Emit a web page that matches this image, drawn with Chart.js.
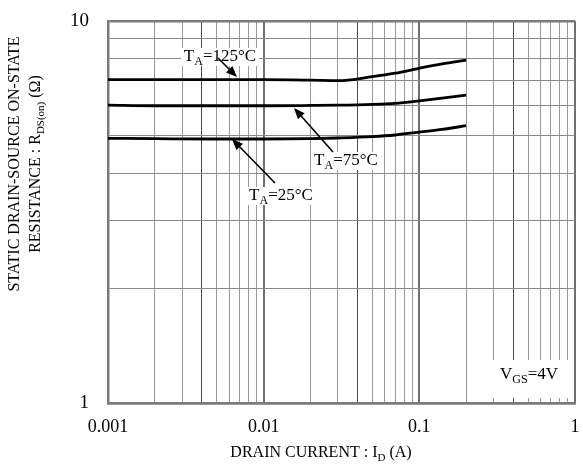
<!DOCTYPE html>
<html>
<head>
<meta charset="utf-8">
<script src="https://cdn.jsdelivr.net/npm/chart.js@4/dist/chart.umd.min.js"></script>
<style>
  html, body { margin: 0; padding: 0; background: #fff; }
  #wrap { width: 583px; height: 468px; position: relative; }
</style>
</head>
<body>
<div id="wrap"><canvas id="rds"></canvas></div>
<script>
// drain current (A) and on-resistance (ohm)
var current = [0.001, 0.002, 0.005, 0.01, 0.02, 0.03, 0.05, 0.07, 0.1, 0.14, 0.2];
var rds125 = [7.02, 7.02, 7.02, 7.02, 7.0, 6.98, 7.15, 7.3, 7.52, 7.72, 7.9];
var rds75 = [6.02, 6.0, 6.0, 6.0, 6.01, 6.02, 6.05, 6.09, 6.18, 6.28, 6.4];
var rds25 = [4.93, 4.92, 4.91, 4.91, 4.92, 4.94, 4.98, 5.03, 5.12, 5.2, 5.32];

// grid / tick positions
var xGrid = [0.001, 0.002, 0.003, 0.004, 0.005, 0.006, 0.007, 0.008, 0.009,
             0.01, 0.02, 0.03, 0.04, 0.05, 0.06, 0.07, 0.08, 0.09,
             0.1, 0.2, 0.3, 0.4, 0.5, 0.6, 0.7, 0.8, 0.9, 1];
var yGrid = [1, 2, 3, 4, 5, 6, 7, 8, 9, 10];
var xLabels = ['0.001', '0.01', '0.1', '1'];
var yLabels = ['1', '10'];

var serif = '"Liberation Serif", "Times New Roman", serif';

function isDecade(v) {
    var l = Math.log10(v);
    return Math.abs(l - Math.round(l)) < 1e-6;
}
function isFour(v) {
    var l = Math.log10(v);
    return Math.abs((l - Math.floor(l + 1e-9)) - Math.log10(4)) < 1e-6;
}

function pts(ys) {
    return current.map(function (x, i) { return { x: x, y: ys[i] }; });
}

function lineSet(label, ys) {
    return {
        label: label,
        data: pts(ys),
        showLine: true,
        borderColor: '#000',
        borderWidth: 2.8,
        pointRadius: 0,
        cubicInterpolationMode: 'monotone',
        fill: false
    };
}

// draw text with subscripts: parts = [[text, isSub], ...]
function richText(ctx, parts, x, y, size) {
    var subSize = Math.round(size * 0.68);
    var w = 0;
    parts.forEach(function (p) {
        ctx.font = (p[1] ? subSize : size) + 'px ' + serif;
        w += ctx.measureText(p[0]).width;
    });
    var cx = x - w / 2;
    ctx.textAlign = 'left';
    ctx.textBaseline = 'middle';
    parts.forEach(function (p) {
        ctx.font = (p[1] ? subSize : size) + 'px ' + serif;
        ctx.fillText(p[0], cx, p[1] ? y + size * 0.3 : y);
        cx += ctx.measureText(p[0]).width;
    });
    return w;
}

function arrow(ctx, x1, y1, x2, y2) {
    var a = Math.atan2(y2 - y1, x2 - x1);
    var len = 11, half = 4.5;
    ctx.strokeStyle = '#000';
    ctx.lineWidth = 1.6;
    ctx.beginPath();
    ctx.moveTo(x1, y1);
    ctx.lineTo(x2 - Math.cos(a) * len * 0.8, y2 - Math.sin(a) * len * 0.8);
    ctx.stroke();
    ctx.fillStyle = '#000';
    ctx.beginPath();
    ctx.moveTo(x2, y2);
    ctx.lineTo(x2 - Math.cos(a) * len - Math.sin(a) * half, y2 - Math.sin(a) * len + Math.cos(a) * half);
    ctx.lineTo(x2 - Math.cos(a) * len + Math.sin(a) * half, y2 - Math.sin(a) * len - Math.cos(a) * half);
    ctx.closePath();
    ctx.fill();
}

function tempLabel(ctx, text, x, y, boxW) {
    ctx.fillStyle = '#fff';
    ctx.fillRect(x - boxW / 2, y - 9, boxW, 18);
    ctx.fillStyle = '#000';
    richText(ctx, [['T', false], ['A', true], ['=' + text, false]], x, y, 17);
}

var annotations = {
    id: 'annotations',
    afterDatasetsDraw: function (chart) {
        var ctx = chart.ctx;
        ctx.save();

        // curve labels and arrows
        tempLabel(ctx, '125°C', 220, 57, 78);
        arrow(ctx, 218, 58, 237, 77);

        tempLabel(ctx, '75°C', 346, 161, 68);
        arrow(ctx, 333, 152, 294, 108);

        tempLabel(ctx, '25°C', 281, 196, 66);
        arrow(ctx, 275, 183, 232, 139);

        // VGS note
        ctx.fillStyle = '#fff';
        ctx.fillRect(492, 360, 82, 38);
        ctx.fillStyle = '#000';
        richText(ctx, [['V', false], ['GS', true], ['=4V', false]], 529, 375, 17);

        // x axis title
        richText(ctx, [['DRAIN CURRENT : I', false], ['D', true], [' (A)', false]], 321, 453, 16);

        // y axis title (two rotated lines)
        ctx.save();
        ctx.translate(15, 164);
        ctx.rotate(-Math.PI / 2);
        richText(ctx, [['STATIC DRAIN-SOURCE ON-STATE', false]], 0, 0, 16);
        ctx.restore();
        ctx.save();
        ctx.translate(36, 164);
        ctx.rotate(-Math.PI / 2);
        richText(ctx, [['RESISTANCE : R', false], ['DS(on)', true], [' (Ω)', false]], 0, 0, 16);
        ctx.restore();

        ctx.restore();
    }
};

new Chart(document.getElementById('rds'), {
    type: 'scatter',
    data: {
        datasets: [
            lineSet('TA=125°C', rds125),
            lineSet('TA=75°C', rds75),
            lineSet('TA=25°C', rds25)
        ]
    },
    options: {
        responsive: true,
        maintainAspectRatio: false,
        animation: false,
        layout: { padding: { top: 21, right: 8, left: 0, bottom: 0 } },
        plugins: {
            legend: { display: false },
            tooltip: { enabled: false }
        },
        scales: {
            x: {
                type: 'logarithmic',
                min: 0.001,
                max: 1,
                afterBuildTicks: function (scale) {
                    scale.ticks = xGrid.map(function (v) { return { value: v }; });
                },
                afterFit: function (scale) {
                    scale.height = 65;
                    scale.paddingLeft = 0;
                    scale.paddingRight = 0;
                },
                ticks: {
                    autoSkip: false,
                    maxRotation: 0,
                    padding: 13,
                    color: '#000',
                    font: { family: serif, size: 18 },
                    callback: function (v) {
                        return isDecade(v) ? xLabels[Math.round(Math.log10(v)) + 3] : '';
                    }
                },
                grid: {
                    drawTicks: false,
                    color: function (c) {
                        if (!c.tick) return '#999';
                        if (isDecade(c.tick.value)) return '#6f6f6f';
                        return isFour(c.tick.value) ? '#4a4a4a' : '#9a9a9a';
                    },
                    lineWidth: function (c) {
                        return c.tick && isDecade(c.tick.value) ? 2 : 1;
                    }
                },
                border: { display: true, color: '#7a7a7a', width: 2.5 }
            },
            y: {
                type: 'logarithmic',
                min: 1,
                max: 10,
                afterBuildTicks: function (scale) {
                    scale.ticks = yGrid.map(function (v) { return { value: v }; });
                },
                afterFit: function (scale) {
                    scale.width = 108;
                    scale.paddingTop = 0;
                    scale.paddingBottom = 0;
                },
                ticks: {
                    autoSkip: false,
                    padding: 19,
                    color: '#000',
                    font: { family: serif, size: 19 },
                    callback: function (v) {
                        return isDecade(v) ? yLabels[Math.round(Math.log10(v))] : '';
                    }
                },
                grid: {
                    drawTicks: false,
                    color: function (c) {
                        return c.tick && isDecade(c.tick.value) ? '#7a7a7a' : '#8a8a8a';
                    },
                    lineWidth: function (c) {
                        return c.tick && isDecade(c.tick.value) ? 2.5 : 1;
                    }
                },
                border: { display: true, color: '#7a7a7a', width: 2.5 }
            }
        }
    },
    plugins: [annotations]
});
</script>
</body>
</html>
